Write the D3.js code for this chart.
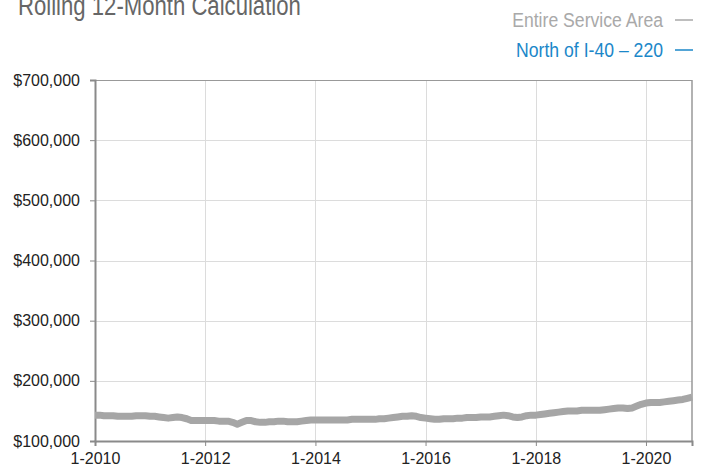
<!DOCTYPE html>
<html>
<head>
<meta charset="utf-8">
<script src="https://cdn.jsdelivr.net/npm/d3@7"></script>
<style>
  html, body { margin: 0; padding: 0; background: #fff; }
  svg { display: block; }
</style>
</head>
<body>
<svg id="chart" width="703" height="468"></svg>
<script>
// ---- Data ----
const title = "Rolling 12-Month Calculation";
const seriesNames = ["Entire Service Area", "North of I-40 \u2013 220"];
const startMonth = "2010-01";
// Monthly rolling values, Jan 2010 – Nov 2020 (Entire Service Area)
const entireValues = [
  143000,143000,142000,142000,142000,141000,141000,141000,141000,142000,142000,142000,
  141000,141000,140000,139000,138000,139000,140000,139000,137000,134000,134000,134000,
  134000,134000,134000,133000,133000,133000,131000,128000,131000,134000,134000,132000,
  131000,131000,132000,132000,133000,133000,132000,132000,132000,133000,134000,135000,
  135000,135000,135000,135000,135000,135000,135000,135000,136000,136000,136000,136000,
  136000,136000,137000,137000,138000,139000,140000,141000,141000,142000,141000,139000,
  138000,137000,136000,136000,137000,137000,137000,138000,138000,139000,139000,139000,
  140000,140000,140000,141000,142000,143000,142000,140000,139000,140000,142000,143000,
  143000,144000,145000,146000,147000,148000,149000,150000,150000,150000,151000,151000,
  151000,151000,151000,152000,153000,154000,155000,155000,154000,155000,158000,161000,
  163000,164000,164000,164000,165000,166000,167000,168000,169000,171000,173000
];
// North of I-40 – 220: no values drawn in the reference
const northValues = [];
const yTicks = [100000, 200000, 300000, 400000, 500000, 600000, 700000];
const xTickYears = [2010, 2012, 2014, 2016, 2018, 2020];

// ---- Setup ----
const svg = d3.select("#chart");
const margin = { left: 95, right: 11, top: 80, bottom: 27 };
const W = 703, H = 468;
const parseMonth = d3.timeParse("%Y-%m");
const start = parseMonth(startMonth);
const toSeries = vals => vals.map((v, i) => ({ date: d3.timeMonth.offset(start, i), value: v }));
const entire = toSeries(entireValues);
const north = toSeries(northValues);

const x = d3.scaleTime()
  .domain([start, d3.timeMonth.offset(start, entireValues.length - 1)])
  .range([margin.left, W - margin.right]);
const y = d3.scaleLinear()
  .domain([100000, 700000])
  .range([H - margin.bottom, margin.top]);

const axisFont = "'Liberation Sans', Arial, Helvetica, sans-serif";

// Title (condensed look)
svg.append("text")
  .attr("transform", "translate(18,15) scale(0.82,1)")
  .attr("font-family", axisFont)
  .attr("font-size", 27)
  .attr("fill", "#666")
  .text(title);

// Legend
const legendColors = ["#a9a9a9", "#1b87c9"];
const legendY = [27, 57];
seriesNames.forEach((name, i) => {
  svg.append("text")
    .attr("transform", `translate(663,${legendY[i]}) scale(0.84,1)`)
    .attr("text-anchor", "end")
    .attr("font-family", axisFont)
    .attr("font-size", 21)
    .attr("fill", legendColors[i])
    .text(name);
  svg.append("line")
    .attr("x1", 675).attr("x2", 693)
    .attr("y1", legendY[i] - 7).attr("y2", legendY[i] - 7)
    .attr("stroke", legendColors[i])
    .attr("stroke-width", 1.5);
});

// Grid lines
const grid = svg.append("g");
grid.selectAll(".hg").data(yTicks.slice(1, -1)).enter().append("line")
  .attr("x1", margin.left).attr("x2", W - margin.right)
  .attr("y1", d => Math.round(y(d)) + 0.5).attr("y2", d => Math.round(y(d)) + 0.5)
  .attr("stroke", "#dcdcdc").attr("stroke-width", 1);
const xTickDates = xTickYears.map(yr => new Date(yr, 0, 1));
grid.selectAll(".vg").data(xTickDates.slice(1)).enter().append("line")
  .attr("x1", d => Math.round(x(d)) + 0.5).attr("x2", d => Math.round(x(d)) + 0.5)
  .attr("y1", margin.top).attr("y2", H - margin.bottom)
  .attr("stroke", "#dcdcdc").attr("stroke-width", 1);

// Frame top and right
svg.append("line")
  .attr("x1", margin.left - 5).attr("x2", W - margin.right)
  .attr("y1", y(700000) + 0.5).attr("y2", y(700000) + 0.5)
  .attr("stroke", "#999").attr("stroke-width", 1.2);
svg.append("line")
  .attr("x1", W - margin.right).attr("x2", W - margin.right)
  .attr("y1", margin.top).attr("y2", H - margin.bottom)
  .attr("stroke", "#999").attr("stroke-width", 1.5);

// Y axis
const yAxis = svg.append("g")
  .attr("transform", `translate(${margin.left},0)`)
  .call(d3.axisLeft(y).tickValues(yTicks).tickSize(5).tickPadding(10)
    .tickFormat(d => "$" + d3.format(",")(d)));
yAxis.select(".domain").attr("stroke", "#8a8a8a").attr("stroke-width", 2);
yAxis.selectAll(".tick line").attr("stroke", "#8a8a8a").attr("stroke-width", 1);
yAxis.selectAll("text")
  .attr("font-family", axisFont).attr("font-size", 16).attr("fill", "#222");

// X axis
const xAxis = svg.append("g")
  .attr("transform", `translate(0,${H - margin.bottom})`)
  .call(d3.axisBottom(x).tickValues(xTickDates).tickSize(5).tickPadding(7)
    .tickFormat(d3.timeFormat("1-%Y")));
xAxis.select(".domain").attr("stroke", "#8a8a8a").attr("stroke-width", 2);
xAxis.selectAll(".tick line").attr("stroke", "#8a8a8a").attr("stroke-width", 1);
xAxis.selectAll("text")
  .attr("font-family", axisFont).attr("font-size", 16).attr("fill", "#222");

// Lines
const line = d3.line().x(d => x(d.date)).y(d => y(d.value)).curve(d3.curveLinear);
[entire, north].forEach((data, i) => {
  if (!data.length) return;
  svg.append("path")
    .datum(data)
    .attr("fill", "none")
    .attr("stroke", i === 0 ? "#a6a6a6" : "#1b87c9")
    .attr("stroke-width", 7)
    .attr("stroke-linejoin", "round")
    .attr("stroke-linecap", "butt")
    .attr("d", line);
});
</script>
</body>
</html>
